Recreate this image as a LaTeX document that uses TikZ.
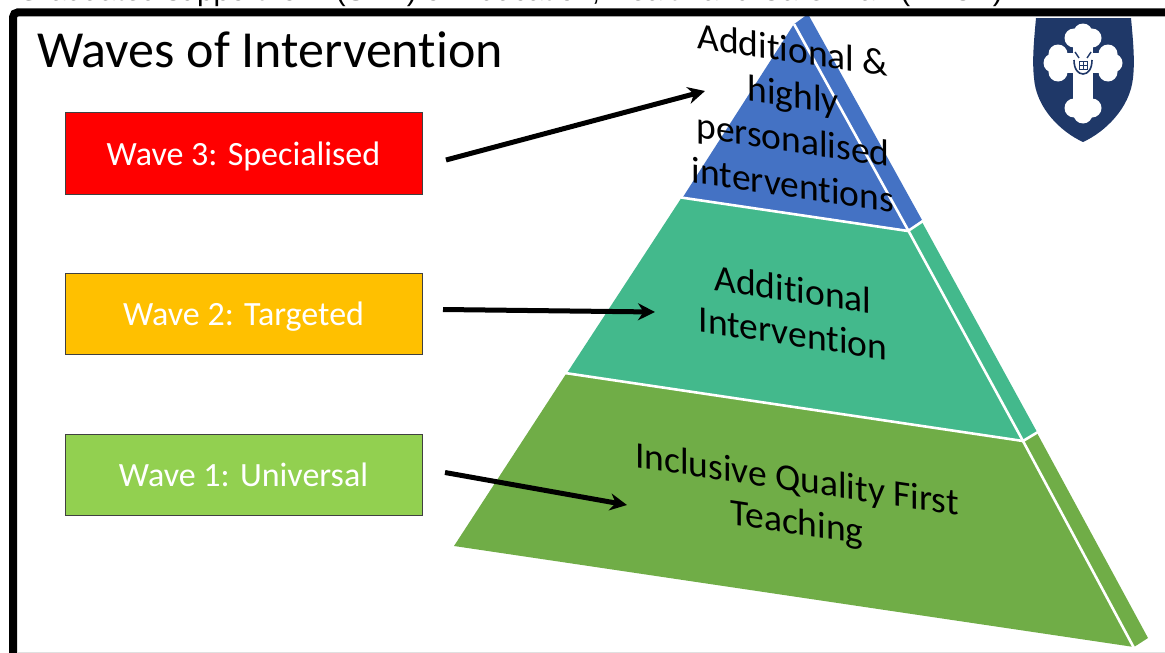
\documentclass[tikz,border=0pt]{standalone}
\usepackage{fontspec}
\setmainfont[RawFeature={-liga;-clig;-dlig;-calt}]{Carlito}
\newfontfamily\capfont{Liberation Sans}
\definecolor{tierblue}{HTML}{4472C4}
\definecolor{tierteal}{HTML}{43B98C}
\definecolor{tierolive}{HTML}{70AD47}
\definecolor{crestnavy}{HTML}{1F3868}
\tikzset{
  wavebox/.style={draw=black!75,line width=0.9pt,minimum width=357pt,minimum height=81.5pt,inner sep=0pt,text=white,text height=30pt,text depth=7pt,font=\fontsize{34}{40}\selectfont},
  facelabel/.style={yslant=-0.15,transform shape,align=center,inner sep=0pt,text=black},
  pointer/.style={line width=5pt,-{Stealth[length=17pt,width=17pt]}},
  edge/.style={white,line width=2.6pt,line cap=butt}
}
\usetikzlibrary{arrows.meta}
\begin{document}
\begin{tikzpicture}[x=1pt,y=-1pt]
\useasboundingbox (0,0) rectangle (1165,653);
\fill[white] (0,0) rectangle (1165,653);
% cut-off line above the slide
\begin{scope}
\clip (0,0) rectangle (1165,8);
\node[anchor=base west,inner sep=0pt,font=\capfont\fontsize{29.7}{32}\selectfont] (cut) at (17,0.5) {Graduated support for\hspace{20pt} (SEN) or Education, Health and Care Plan (EHCP)};
\end{scope}
% pyramid
\fill[tierblue] (683,197) -- (794,24) -- (797,22) -- (808,14) -- (922,220) -- (908,230) -- cycle;
\fill[tierteal] (567,373) -- (682,197) -- (909,231) -- (922,222) -- (1037,432) -- (1023,441) -- cycle;
\fill[tierolive] (454,546) -- (566,374) -- (1023,441) -- (1037,433) -- (1148,638) -- (1134,647) -- cycle;
\draw[edge] (794,24) -- (908,230) -- (1023,441) -- (1134,648);
\draw[edge] (681,197.5) -- (908,231) -- (923,221);
\draw[edge] (565,373) -- (1023,441) -- (1038,432);
% frame
\draw[black,line width=8pt,rounded corners=5pt] (13,660) -- (13,12.3) -- (1175,12.3);
\draw[black!12,line width=1.5pt] (17,652.3) -- (1165,652.3);
% title
\node[anchor=base west,inner sep=0pt,font=\fontsize{52}{60}\selectfont] (title) at (37,67) {Waves of Intervention};
% boxes
\node[wavebox,fill=red] (w3) at (243.5,153.5) {Wave 3: Specialised};
\node[wavebox,fill={rgb,255:red,255;green,192;blue,0}] (w2) at (243.5,314) {Wave 2: Targeted};
\node[wavebox,fill={rgb,255:red,146;green,208;blue,80}] (w1) at (243.5,475) {Wave 1: Universal};
% arrows
\coordinate (s3) at (446,160);
\coordinate (e3) at (705,91);
\coordinate (s2) at (443,309.5);
\coordinate (e2) at (655,312);
\coordinate (s1) at (445,472.5);
\coordinate (e1) at (627,505);
\draw[pointer] (s3) -- (e3);
\draw[pointer] (s2) -- (e2);
\draw[pointer] (s1) -- (e1);
% pyramid labels
\node[facelabel,font=\fontsize{37.5}{45}\selectfont] (t3) at (793,117) {Additional \&\\highly\\personalised\\interventions};
\node[facelabel,font=\fontsize{37.5}{44}\selectfont] (t2) at (793,311) {Additional\\Intervention};
\node[facelabel,font=\fontsize{37.5}{43}\selectfont] (t1) at (797,503) {Inclusive Quality First\\Teaching};
% crest
\fill[crestnavy] (1036,18) -- (1131,18) .. controls (1133,40) and (1135,60) .. (1133,78) .. controls (1130,108) and (1105,132) .. (1083,142) .. controls (1061,132) and (1036,108) .. (1034,78) .. controls (1032,60) and (1034,40) .. (1036,18) -- cycle;
\fill[white] (1073,40) rectangle (1093,105);
\fill[white] (1060,53) rectangle (1106,73);
\foreach \a/\b in {1083/33,1074/38,1092/38,1083/114,1074/108,1092/108,1053/63,1058/54,1058/72,1113/63,1108/54,1108/72}
  \fill[white] (\a,\b) circle (9.5pt);
\draw[crestnavy,line width=1.6pt] (1074,60) .. controls (1074,69) and (1078,74) .. (1083,74) .. controls (1088,74) and (1092,69) .. (1092,60);
\draw[crestnavy,line width=1.4pt] (1075,52) -- (1079,58) (1091,52) -- (1087,58);
\draw[crestnavy,line width=1pt] (1079,61) rectangle (1087,69);
\draw[crestnavy,line width=0.7pt] (1083,61) -- (1083,69) (1079,65) -- (1087,65);
\end{tikzpicture}
\end{document}
